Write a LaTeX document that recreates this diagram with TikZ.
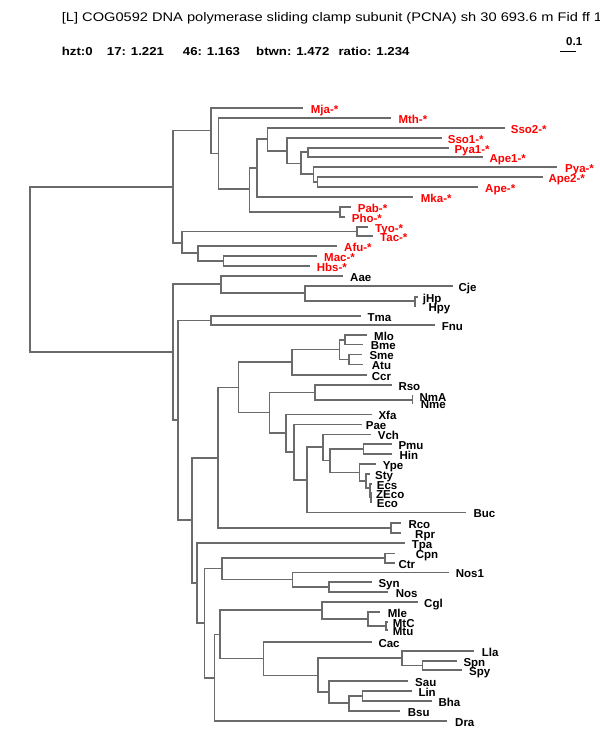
\documentclass[tikz,border=0pt]{standalone}
\usepackage{fontspec}
\setmainfont{Liberation Sans}
\newfontfamily\titlefont[FakeStretch=1.17]{Liberation Sans}
\newfontfamily\hdrfont[FakeStretch=1.15]{Liberation Sans}
\definecolor{branchgray}{HTML}{6B6B6B}
\definecolor{archred}{HTML}{FF0000}
\begin{document}
\begin{tikzpicture}[x=1pt,y=-1pt,
  branch/.style={draw=branchgray,line width=1.6pt},
  leaflbl/.style={anchor=base west,inner sep=0pt,font=\fontsize{11.5}{12}\selectfont\bfseries},
  archlbl/.style={leaflbl,text=archred},
  baclbl/.style={leaflbl,text=black},
  hdr/.style={anchor=base west,inner sep=0pt,font=\hdrfont\fontsize{11.5}{12}\selectfont\bfseries},
  ttl/.style={anchor=base west,inner sep=0pt,font=\titlefont\fontsize{12.5}{13}\selectfont}]
\useasboundingbox (0,0) rectangle (600,750);
\fill[white] (0,0) rectangle (600,750);

% header
\node[ttl] (title) at (61.7,21) {[L] COG0592 DNA polymerase sliding clamp subunit (PCNA) sh 30 693.6 m Fid ff 1};
\node[hdr] (h1) at (61.7,55) {hzt:0};
\node[hdr] (h2) at (106.7,55) {17: 1.221};
\node[hdr] (h3) at (182.7,55) {46: 1.163};
\node[hdr] (h4) at (256,55) {btwn: 1.472};
\node[hdr] (h5) at (338.3,55) {ratio: 1.234};
\node[leaflbl] (sblbl) at (566,45) {0.1};
\coordinate (sbL) at (560,51);
\coordinate (sbR) at (576,51);
\draw[black,line width=1pt] (sbL) -- (sbR);

% internal nodes
\foreach \n/\x/\y in {root/30/269.5,
  nA/172.7/186.9, nA1/210.7/130.5, nA11/218.3/153.5, nA12/249.3/189.2, nA13/256.7/167.7,
  nA14/267.3/139.2, nA15/286.7/151, nA16/301/163.4, nA17/307.7/152.2, nA18/313.3/174.2,
  nA19/317.3/181.7, nPP/340/211.7, nA2/181.7/242.7, nTT/356.7/231.3, nA21/198/253.2,
  nA22/223.3/260.7,
  nB/172.7/352.2, nB1/220.7/284.2, nB11/305/293.2, nB12/415/301.2, nB2/177.7/420.2,
  nTF/210.7/320.3, nB3/191.7/520.2, nB4/217.7/457.7, nB6/238.5/387.5, nB7/291.7/362.2,
  nB71/339.3/349.5, nB72/345/339.7, nB73/349/359.3, nB8/269.3/412.3, nB81/315/392.3,
  nNN/412.3/399.7, nB82/286/433, nB83/294/451.8, nB84/306.7/479.8, nB85/322.7/447.2,
  nB86/330/460.6, nPH/363.3/449, nB87/359.3/472.5, nB88/366/481, nB89/370/488,
  nB90/371/497.5, nRR/390.7/527.7, nB5/196.7/582.7, nB51/204.3/623.2, nB52/221.7/568.6,
  nCC/385/558, nB54/292.3/579.5, nSN/329/586.7, nB53/214.3/677.9, nB55/220/634.5,
  nB56/321.7/610, nB58/367.7/618.8, nMM/386/625.9, nB57/263.3/658.6, nB59/317.7/675.5,
  nB60/401.7/658.2, nSS/422.3/665.3, nB61/329/691.7, nB62/349/703.2, nLB/362.3/695.7}
  {\coordinate (\n) at (\x,\y);}

% archaeal leaves (red)
\foreach \n/\x/\y/\lx in {Mja/302.7/107.7/310.7, Mth/390.7/117.7/398.3, Sso2/505/127.7/510.7,
  Sso1/441.7/137.7/447.7, Pya1/449/147.7/454.3, Ape1/482.7/156.7/489.3, Pya/557.3/166.7/565,
  Ape2/542.7/176.7/548.3, Ape/478.3/186.7/485, Mka/413.3/197/420.7, Pab/350.7/206.7/357.7,
  Pho/345/216.7/351.7, Tyo/368.3/226.7/375, Tac/373.3/236/380, Afu/337.3/245.7/344,
  Mac/316.7/255.7/324, Hbs/310/265.7/316.7}
  {\coordinate (\n) at (\x,\y);
   \node[archlbl] (L\n) at (\lx,\y+5.5) {\n-*};}

% bacterial leaves (black)
\foreach \n/\x/\y/\lx in {Aae/343.3/275.7/350, Cje/452.7/285.7/458.3, jHp/418.3/296.7/422.7,
  Hpy/416/305.7/428.3, Tma/360.7/315.7/367.3, Fnu/435/325/441.7, Mlo/366.7/335/374,
  Bme/363.3/344.3/370.7, Sme/362.3/354.3/369.3, Atu/363.3/364.3/371.7, Ccr/366.7/375/371.7,
  Rso/391.7/385/398.3, NmA/413/396/419.3, Nme/413/403.3/420.7, Xfa/371.7/414.3/378.3,
  Pae/361.7/424.3/365.7, Vch/370.7/434.3/377.7, Pmu/391.7/444/398.3, Hin/391.7/454/399.3,
  Ype/376/464/382.7, Sty/370/474/375, Ecs/372/484/376.7, ZEco/372/493/376, Eco/372/502/376.7,
  Buc/466/512.3/473.3, Rco/400.7/522.7/408.3, Rpr/400.7/532.7/415, Tpa/405/542.7/411.7,
  Cpn/395/553.3/415.7, Ctr/395/562.7/398.3, Nos1/449/572.3/455.7, Syn/371.7/581.7/378.3,
  Nos/388.3/591.7/395.7, Cgl/418.3/601.7/424, Mle/380/611.7/387.7, MtC/388/621.7/392.7,
  Mtu/388/630/392.7, Cac/371.7/641.7/378.3, Lla/474/651/481.7, Spn/456.7/660.7/463.3,
  Spy/461.7/670/469, Sau/408.3/681/415, Lin/411.7/690.7/418.3, Bha/431.7/700.7/438.3,
  Bsu/400/710.7/407.7, Dra/446.7/720.7/455}
  {\coordinate (\n) at (\x,\y);
   \node[baclbl] (L\n) at (\lx,\y+5.5) {\n};}

% branches
\foreach \p/\c in {root/nA, root/nB,
  nA/nA1, nA/nA2, nA1/Mja, nA1/nA11, nA11/Mth, nA11/nA12, nA12/nA13, nA12/nPP,
  nA13/nA14, nA13/Mka, nA14/Sso2, nA14/nA15, nA15/Sso1, nA15/nA16, nA16/nA17, nA16/nA18,
  nA17/Pya1, nA17/Ape1, nA18/Pya, nA18/nA19, nA19/Ape2, nA19/Ape, nPP/Pab, nPP/Pho,
  nA2/nTT, nA2/nA21, nTT/Tyo, nTT/Tac, nA21/Afu, nA21/nA22, nA22/Mac, nA22/Hbs,
  nB/nB1, nB/nB2, nB1/Aae, nB1/nB11, nB11/Cje, nB11/nB12, nB12/jHp, nB12/Hpy,
  nB2/nTF, nB2/nB3, nTF/Tma, nTF/Fnu, nB3/nB4, nB3/nB5, nB4/nB6, nB4/nRR,
  nB6/nB7, nB6/nB8, nB7/nB71, nB7/Ccr, nB71/nB72, nB71/nB73, nB72/Mlo, nB72/Bme,
  nB73/Sme, nB73/Atu, nB8/nB81, nB8/nB82, nB81/Rso, nB81/nNN, nNN/NmA, nNN/Nme,
  nB82/Xfa, nB82/nB83, nB83/Pae, nB83/nB84, nB84/nB85, nB84/Buc, nB85/Vch, nB85/nB86,
  nB86/nPH, nB86/nB87, nPH/Pmu, nPH/Hin, nB87/Ype, nB87/nB88, nB88/Sty, nB88/nB89,
  nB89/Ecs, nB89/nB90, nB90/ZEco, nB90/Eco, nRR/Rco, nRR/Rpr,
  nB5/Tpa, nB5/nB51, nB51/nB52, nB51/nB53, nB52/nCC, nB52/nB54, nCC/Cpn, nCC/Ctr,
  nB54/Nos1, nB54/nSN, nSN/Syn, nSN/Nos, nB53/nB55, nB53/Dra, nB55/nB56, nB55/nB57,
  nB56/Cgl, nB56/nB58, nB58/Mle, nB58/nMM, nMM/MtC, nMM/Mtu, nB57/Cac, nB57/nB59,
  nB59/nB60, nB59/nB61, nB60/Lla, nB60/nSS, nSS/Spn, nSS/Spy, nB61/Sau, nB61/nB62,
  nB62/nLB, nB62/Bsu, nLB/Lin, nLB/Bha}
  {\draw[branch] (\p) |- (\c);}
\end{tikzpicture}
\end{document}
